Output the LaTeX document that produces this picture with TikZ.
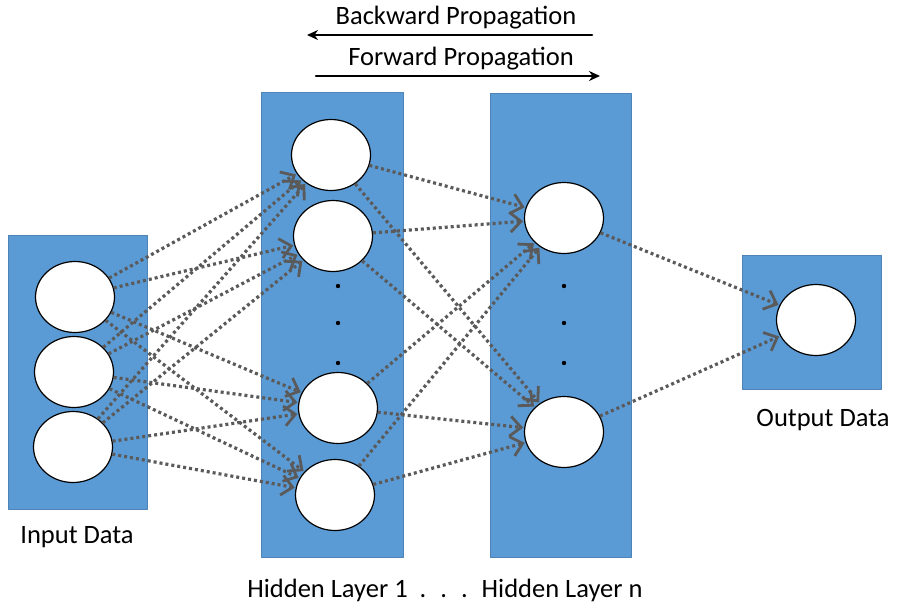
\documentclass[tikz,border=0pt]{standalone}
\usepackage{fontspec}
\setmainfont{Carlito}
\usetikzlibrary{arrows.meta,shapes.geometric}
\definecolor{boxblue}{HTML}{5B9BD5}
\definecolor{linkgray}{HTML}{5A5A5A}
\begin{document}
\begin{tikzpicture}[line cap=round,line join=round,x=1pt,y=-1pt,
	layerbox/.style={fill=boxblue,draw=boxblue!85!black,line width=0.8pt},
	neuron/.style={ellipse,draw=black,fill=white,line width=1.2pt,minimum width=79pt,minimum height=71pt,inner sep=0pt},
	link/.style={draw=linkgray,line width=3.2pt,dash pattern=on 3pt off 3pt,line cap=butt,-{Straight Barb[length=11pt,width=20pt,line width=2.8pt]},shorten >=1pt},
	label/.style={font=\fontsize{26.5}{30}\selectfont},
	flow/.style={line width=2.6pt,-{Stealth[length=11pt,width=10pt]}}]
	\useasboundingbox (0,0) rectangle (898,603);
	% layers
	\draw[layerbox] (8,235) rectangle (147,509);
	\draw[layerbox] (261,92) rectangle (403,557);
	\draw[layerbox] (490,93) rectangle (631,557);
	\draw[layerbox] (742,255) rectangle (881,389);
	% input neurons
	\node[neuron] (in1) at (75,297) {};
	\node[neuron] (in2) at (74,372) {};
	\node[neuron] (in3) at (73,447) {};
	% hidden layer 1
	\node[neuron] (ha) at (331,155) {};
	\node[neuron] (hb) at (333,236) {};
	\node[neuron] (hc) at (338,408) {};
	\node[neuron] (hd) at (335,495) {};
	% hidden layer n
	\node[neuron] (na) at (564,218) {};
	\node[neuron] (nb) at (564,432) {};
	% output
	\node[neuron] (out) at (816,320) {};
	% dots
	\foreach \yy in {286,323,363}{
		\fill (338,\yy) circle (2.2pt);
		\fill (564,\yy) circle (2.2pt);
	}
	% connections
	\foreach \s in {in1,in2,in3}
		\foreach \t in {ha,hb,hc,hd}
			\draw[link] (\s) -- (\t);
	\foreach \s in {ha,hb,hc,hd}
		\foreach \t in {na,nb}
			\draw[link] (\s) -- (\t);
	\draw[link] (na) -- (out);
	\draw[link] (nb) -- (out);
	% labels
	\node[label] (inlabel) at (77,537) {Input Data};
	\node[label] (hidlabel) at (445,590) {Hidden Layer 1 \ . \ . \ . \ Hidden Layer n};
	\node[label] (outlabel) at (823,420) {Output Data};
	\node[label] (backlabel) at (456,18) {Backward Propagation};
	\node[label] (forelabel) at (461,59) {Forward Propagation};
	\coordinate (backstart) at (592,35);
	\coordinate (backend) at (307,35);
	\coordinate (forestart) at (316,76);
	\coordinate (foreend) at (600,76);
	\draw[flow] (backstart) -- (backend);
	\draw[flow] (forestart) -- (foreend);
\end{tikzpicture}
\end{document}
